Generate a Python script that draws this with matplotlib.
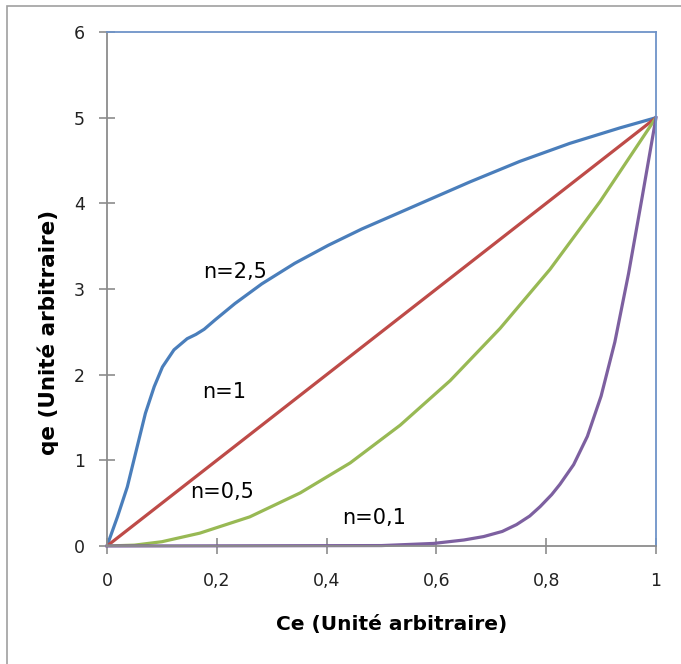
import matplotlib.pyplot as plt
from matplotlib.patches import Rectangle

plt.rcParams['font.family'] = ['DejaVu Sans']

# valeurs
x_25 = [0, 0.019, 0.037, 0.055, 0.070, 0.086, 0.101, 0.122, 0.146, 0.162, 0.177, 0.197,
        0.233, 0.282, 0.342, 0.403, 0.464, 0.525, 0.575, 0.661, 0.752, 0.843, 0.934, 1.0]
q_25 = [0, 0.34, 0.69, 1.16, 1.55, 1.86, 2.09, 2.29, 2.42, 2.47, 2.53, 2.64,
        2.83, 3.06, 3.30, 3.51, 3.70, 3.87, 4.01, 4.25, 4.49, 4.70, 4.88, 5.0]

x_1 = [0, 1.0]
q_1 = [0, 5.0]

x_05 = [0, 0.05, 0.1, 0.169, 0.26, 0.352, 0.443, 0.534, 0.625, 0.716, 0.807, 0.898, 1.0]
q_05 = [0, 0.01, 0.05, 0.15, 0.34, 0.62, 0.97, 1.41, 1.93, 2.54, 3.23, 4.02, 5.0]

x_01 = [0, 0.5, 0.595, 0.65, 0.686, 0.72, 0.746, 0.77, 0.789, 0.81, 0.825,
        0.85, 0.875, 0.9, 0.925, 0.95, 0.975, 1.0]
q_01 = [0, 0.005, 0.03, 0.07, 0.11, 0.17, 0.25, 0.35, 0.46, 0.6, 0.72,
        0.95, 1.28, 1.75, 2.38, 3.18, 4.08, 5.0]

xticks = [0, 0.2, 0.4, 0.6, 0.8, 1]
xlabels = ['0', '0,2', '0,4', '0,6', '0,8', '1']
yticks = [0, 1, 2, 3, 4, 5, 6]

labels = ['n=2,5', 'n=1', 'n=0,5', 'n=0,1']
label_pos = [(0.233, 3.2), (0.213, 1.80), (0.21, 0.63), (0.487, 0.33)]

fig = plt.figure(figsize=(6.81, 6.64), dpi=100)
fig.patches.append(Rectangle((7/681, -0.05), 1.1, 1 - 6/664 + 0.05, transform=fig.transFigure,
                             fill=False, edgecolor='#a0a0a0', linewidth=1.2))
ax = fig.add_axes([107/681, 1 - 546/664, 549/681, 514/664])

lw = 2.3
ax.plot(x_25, q_25, color='#4A7EBB', lw=lw, solid_joinstyle='round')
ax.plot(x_1, q_1, color='#BE4B48', lw=lw)
ax.plot(x_05, q_05, color='#98B954', lw=lw, solid_joinstyle='round')
ax.plot(x_01, q_01, color='#7D60A0', lw=lw, solid_joinstyle='round', clip_on=False)

for t, (px, py) in zip(labels, label_pos):
    ax.text(px, py, t, fontsize=15, ha='center', va='center', color='black')

ax.set_xlim(0, 1)
ax.set_ylim(0, 6)
ax.set_xticks(xticks)
ax.set_xticklabels(xlabels)
ax.set_yticks(yticks)

for s in ['top', 'right']:
    ax.spines[s].set_color('#6E93C8')
    ax.spines[s].set_linewidth(1.3)
for s in ['left', 'bottom']:
    ax.spines[s].set_color('#8c8c8c')
    ax.spines[s].set_linewidth(1.3)

ax.tick_params(direction='inout', length=12, width=1.2, color='#8c8c8c',
               labelsize=12.5, labelcolor='#222222')
ax.tick_params(axis='x', pad=13)
ax.tick_params(axis='y', pad=10)

ax.set_xlabel('Ce (Unité arbitraire)', fontsize=14.5, fontweight='bold', labelpad=16)
ax.xaxis.set_label_coords(0.519, -0.135)
ax.set_ylabel('qe (Unité arbitraire)', fontsize=15.5, fontweight='bold')
ax.yaxis.set_label_coords(-0.088, 0.416)

fig.savefig('out.png', dpi=100)
